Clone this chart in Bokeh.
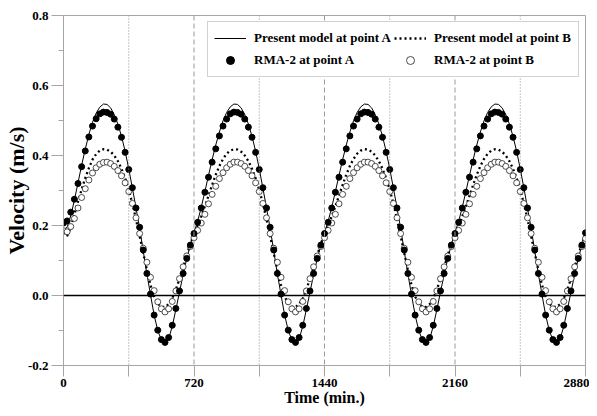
from bokeh.plotting import figure
from bokeh.models import (FixedTicker, PrintfTickFormatter, Span, Legend,
                          LegendItem, ColumnDataSource)
from bokeh.embed import file_html
from bokeh.resources import INLINE

# ---------------- data ----------------
time_min = [
    0, 20, 40, 60, 80, 100, 120, 140, 160, 180, 200, 220, 240, 260, 280, 300, 320, 340,
    360, 380, 400, 420, 440, 460, 480, 500, 520, 540, 560, 580, 600, 620, 640, 660, 680, 700,
    720, 740, 760, 780, 800, 820, 840, 860, 880, 900, 920, 940, 960, 980, 1000, 1020, 1040, 1060,
    1080, 1100, 1120, 1140, 1160, 1180, 1200, 1220, 1240, 1260, 1280, 1300, 1320, 1340, 1360, 1380, 1400, 1420,
    1440, 1460, 1480, 1500, 1520, 1540, 1560, 1580, 1600, 1620, 1640, 1660, 1680, 1700, 1720, 1740, 1760, 1780,
    1800, 1820, 1840, 1860, 1880, 1900, 1920, 1940, 1960, 1980, 2000, 2020, 2040, 2060, 2080, 2100, 2120, 2140,
    2160, 2180, 2200, 2220, 2240, 2260, 2280, 2300, 2320, 2340, 2360, 2380, 2400, 2420, 2440, 2460, 2480, 2500,
    2520, 2540, 2560, 2580, 2600, 2620, 2640, 2660, 2680, 2700, 2720, 2740, 2760, 2780, 2800, 2820, 2840, 2860,
    2880,
]

present_a = [
    0.188, 0.195, 0.228, 0.272, 0.322, 0.372, 0.418, 0.460, 0.495, 0.521, 0.538, 0.547,
    0.546, 0.536, 0.517, 0.490, 0.455, 0.412, 0.362, 0.307, 0.250, 0.192, 0.127, 0.062,
    0.002, -0.056, -0.100, -0.127, -0.136, -0.124, -0.088, -0.040, 0.010, 0.060, 0.105, 0.145,
    0.180, 0.212, 0.252, 0.297, 0.343, 0.388, 0.430, 0.467, 0.499, 0.523, 0.539, 0.547,
    0.546, 0.536, 0.517, 0.490, 0.455, 0.412, 0.362, 0.307, 0.250, 0.192, 0.127, 0.062,
    0.002, -0.056, -0.100, -0.127, -0.136, -0.124, -0.088, -0.040, 0.010, 0.060, 0.105, 0.145,
    0.180, 0.212, 0.252, 0.297, 0.343, 0.388, 0.430, 0.467, 0.499, 0.523, 0.539, 0.547,
    0.546, 0.536, 0.517, 0.490, 0.455, 0.412, 0.362, 0.307, 0.250, 0.192, 0.127, 0.062,
    0.002, -0.056, -0.100, -0.127, -0.136, -0.124, -0.088, -0.040, 0.010, 0.060, 0.105, 0.145,
    0.180, 0.212, 0.252, 0.297, 0.343, 0.388, 0.430, 0.467, 0.499, 0.523, 0.539, 0.547,
    0.546, 0.536, 0.517, 0.490, 0.455, 0.412, 0.362, 0.307, 0.250, 0.192, 0.127, 0.062,
    0.002, -0.056, -0.100, -0.127, -0.136, -0.124, -0.088, -0.040, 0.010, 0.060, 0.105, 0.145,
    0.180,
]

present_b = [
    0.180, 0.170, 0.195, 0.232, 0.268, 0.303, 0.335, 0.364, 0.388, 0.404, 0.414, 0.418,
    0.417, 0.411, 0.400, 0.384, 0.362, 0.335, 0.302, 0.263, 0.218, 0.170, 0.121, 0.073,
    0.030, -0.003, -0.023, -0.032, -0.033, -0.025, -0.008, 0.017, 0.048, 0.081, 0.115, 0.147,
    0.178, 0.200, 0.226, 0.255, 0.285, 0.316, 0.345, 0.370, 0.390, 0.405, 0.414, 0.418,
    0.417, 0.411, 0.400, 0.384, 0.362, 0.335, 0.302, 0.263, 0.218, 0.170, 0.121, 0.073,
    0.030, -0.003, -0.023, -0.032, -0.033, -0.025, -0.008, 0.017, 0.048, 0.081, 0.115, 0.147,
    0.178, 0.200, 0.226, 0.255, 0.285, 0.316, 0.345, 0.370, 0.390, 0.405, 0.414, 0.418,
    0.417, 0.411, 0.400, 0.384, 0.362, 0.335, 0.302, 0.263, 0.218, 0.170, 0.121, 0.073,
    0.030, -0.003, -0.023, -0.032, -0.033, -0.025, -0.008, 0.017, 0.048, 0.081, 0.115, 0.147,
    0.178, 0.200, 0.226, 0.255, 0.285, 0.316, 0.345, 0.370, 0.390, 0.405, 0.414, 0.418,
    0.417, 0.411, 0.400, 0.384, 0.362, 0.335, 0.302, 0.263, 0.218, 0.170, 0.121, 0.073,
    0.030, -0.003, -0.023, -0.032, -0.033, -0.025, -0.008, 0.017, 0.048, 0.081, 0.115, 0.147,
    0.178,
]

rma_a = [
    0.207, 0.213, 0.238, 0.275, 0.320, 0.368, 0.413, 0.453, 0.484, 0.505, 0.519, 0.524,
    0.523, 0.518, 0.504, 0.481, 0.452, 0.409, 0.360, 0.308, 0.250, 0.195, 0.130, 0.063,
    0.004, -0.056, -0.099, -0.126, -0.134, -0.120, -0.085, -0.037, 0.013, 0.063, 0.106, 0.144,
    0.177, 0.209, 0.250, 0.295, 0.338, 0.381, 0.419, 0.456, 0.484, 0.504, 0.519, 0.524,
    0.523, 0.518, 0.504, 0.481, 0.452, 0.409, 0.360, 0.308, 0.250, 0.195, 0.130, 0.063,
    0.004, -0.056, -0.099, -0.126, -0.134, -0.120, -0.085, -0.037, 0.013, 0.063, 0.106, 0.144,
    0.177, 0.209, 0.250, 0.295, 0.338, 0.381, 0.419, 0.456, 0.484, 0.504, 0.519, 0.524,
    0.523, 0.518, 0.504, 0.481, 0.452, 0.409, 0.360, 0.308, 0.250, 0.195, 0.130, 0.063,
    0.004, -0.056, -0.099, -0.126, -0.134, -0.120, -0.085, -0.037, 0.013, 0.063, 0.106, 0.144,
    0.177, 0.209, 0.250, 0.295, 0.338, 0.381, 0.419, 0.456, 0.484, 0.504, 0.519, 0.524,
    0.523, 0.518, 0.504, 0.481, 0.452, 0.409, 0.360, 0.308, 0.250, 0.195, 0.130, 0.063,
    0.004, -0.056, -0.099, -0.126, -0.134, -0.120, -0.085, -0.037, 0.013, 0.063, 0.106, 0.144,
    0.179,
]

rma_b = [
    0.185, 0.182, 0.197, 0.220, 0.250, 0.280, 0.305, 0.330, 0.350, 0.365, 0.375, 0.380,
    0.381, 0.377, 0.369, 0.357, 0.342, 0.322, 0.297, 0.263, 0.222, 0.177, 0.135, 0.095,
    0.052, 0.014, -0.018, -0.038, -0.047, -0.038, -0.017, 0.013, 0.048, 0.082, 0.113, 0.140,
    0.165, 0.186, 0.207, 0.232, 0.262, 0.289, 0.312, 0.334, 0.351, 0.365, 0.375, 0.381,
    0.381, 0.377, 0.369, 0.357, 0.342, 0.322, 0.297, 0.263, 0.222, 0.177, 0.135, 0.095,
    0.052, 0.014, -0.018, -0.038, -0.047, -0.038, -0.017, 0.013, 0.048, 0.082, 0.113, 0.140,
    0.165, 0.186, 0.207, 0.232, 0.262, 0.289, 0.312, 0.334, 0.351, 0.365, 0.375, 0.381,
    0.381, 0.377, 0.369, 0.357, 0.342, 0.322, 0.297, 0.263, 0.222, 0.177, 0.135, 0.095,
    0.052, 0.014, -0.018, -0.038, -0.047, -0.038, -0.017, 0.013, 0.048, 0.082, 0.113, 0.140,
    0.165, 0.186, 0.207, 0.232, 0.262, 0.289, 0.312, 0.334, 0.351, 0.365, 0.375, 0.381,
    0.381, 0.377, 0.369, 0.357, 0.342, 0.322, 0.297, 0.263, 0.222, 0.177, 0.135, 0.095,
    0.052, 0.014, -0.018, -0.038, -0.047, -0.038, -0.017, 0.013, 0.048, 0.082, 0.113, 0.140,
    0.163,
]

x_major_ticks = [0, 720, 1440, 2160, 2880]
x_minor_ticks = [360, 1080, 1800, 2520]
y_major_ticks = [-0.2, 0.0, 0.2, 0.4, 0.6, 0.8]
y_minor_ticks = [-0.1, 0.1, 0.3, 0.5, 0.7]
grid_dotted = [360, 1080, 1800, 2520]
grid_dashed = [720, 1440, 2160]

FONT = "Liberation Serif"
GRAY = "#a6a6a6"

src = ColumnDataSource(dict(t=time_min, pa=present_a, pb=present_b, ra=rma_a, rb=rma_b))

p = figure(width=589, height=408, x_range=(0, 2880), y_range=(-0.2, 0.8),
           output_backend="svg", toolbar_location=None,
           min_border_left=62, min_border_right=4, min_border_top=15, min_border_bottom=10)
p.background_fill_color = "white"
p.border_fill_color = "white"
p.outline_line_color = GRAY
p.outline_line_width = 1
p.grid.visible = False

for g in grid_dotted:
    p.add_layout(Span(location=g, dimension="height", line_color="#8c8c8c",
                      line_width=1, line_dash="1 2"))
for g in grid_dashed:
    p.add_layout(Span(location=g, dimension="height", line_color="#9a9a9a",
                      line_width=1, line_dash="5 3"))
p.add_layout(Span(location=0, dimension="width", line_color="black", line_width=1.6))

r_pa = p.line("t", "pa", source=src, line_color="black", line_width=1)
r_pb = p.line("t", "pb", source=src, line_color="black", line_width=2.3, line_dash="2 3")
r_rb = p.scatter("t", "rb", source=src, marker="circle", size=6, fill_color="white",
                 line_color="#222222", line_width=0.8)
r_ra = p.scatter("t", "ra", source=src, marker="circle", size=6, fill_color="black",
                 line_color="black")

# axes
xa = p.xaxis[0]
xa.ticker = FixedTicker(ticks=x_major_ticks, minor_ticks=x_minor_ticks)
xa.formatter = PrintfTickFormatter(format="%d")
ya = p.yaxis[0]
ya.ticker = FixedTicker(ticks=y_major_ticks, minor_ticks=y_minor_ticks)
ya.formatter = PrintfTickFormatter(format="%.1f")
for ax in (xa, ya):
    ax.axis_line_color = GRAY
    ax.major_tick_line_color = GRAY
    ax.minor_tick_line_color = GRAY
    ax.major_tick_in = 0
    ax.minor_tick_in = 0
    ax.major_label_text_font = FONT
    ax.major_label_text_font_style = "bold"
    ax.major_label_text_font_size = "13px"
    ax.major_label_text_color = "black"
    ax.axis_label_text_font = FONT
    ax.axis_label_text_font_style = "bold"
    ax.axis_label_text_color = "black"
xa.major_tick_out = 11
xa.minor_tick_out = 11
ya.major_tick_out = 12
ya.minor_tick_out = 5
xa.major_label_standoff = 2
ya.major_label_standoff = 3
xa.axis_label = "Time (min.)"
ya.axis_label = "Velocity (m/s)"
xa.axis_label_text_font_size = "16px"
ya.axis_label_text_font_size = "22px"
xa.axis_label_standoff = -1
ya.axis_label_standoff = -4

legend = Legend(items=[
    LegendItem(label="Present model at point A", renderers=[r_pa]),
    LegendItem(label="RMA-2 at point A", renderers=[r_ra]),
    LegendItem(label="Present model at point B", renderers=[r_pb]),
    LegendItem(label="RMA-2 at point B", renderers=[r_rb]),
], location="top_right", ncols=2)
legend.label_text_font = FONT
legend.label_text_font_style = "bold"
legend.label_text_font_size = "13px"
legend.label_text_color = "black"
legend.border_line_color = GRAY
legend.border_line_width = 1
legend.background_fill_color = "white"
legend.background_fill_alpha = 1
legend.glyph_width = 32
legend.glyph_height = 20
legend.label_height = 20
legend.label_width = 138
legend.label_standoff = 8
legend.padding = 6
legend.spacing = 2
legend.margin = 6
p.add_layout(legend)

open("out.html", "w").write(file_html(p, INLINE))
